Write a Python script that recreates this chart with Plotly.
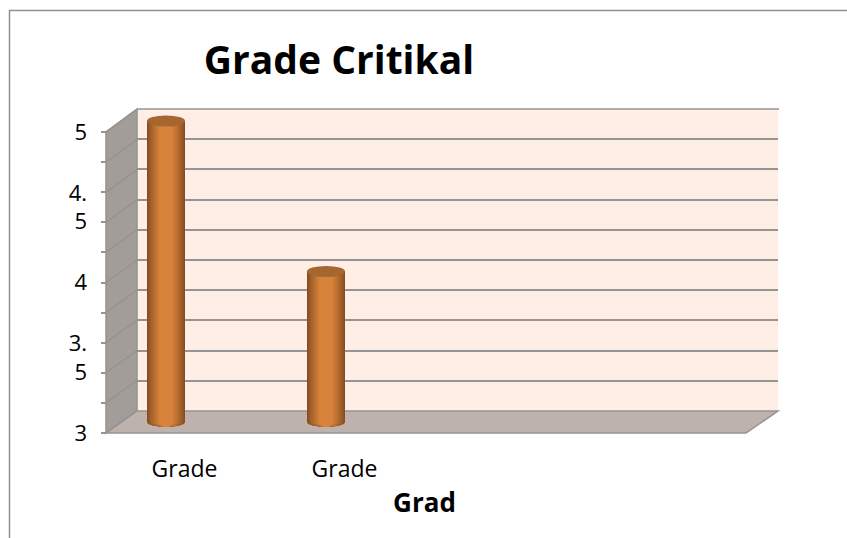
import plotly.graph_objects as go

# ---- data ----
categories = ["Grade", "Grade"]
values = [5, 4]
axis_slots = [0, 1, 2, 3]
tick_values = [3, 3.5, 4, 4.5, 5]
tick_labels = ["3", "3.<br>5", "4", "4.<br>5", "5"]
title_text = "Grade Critikal"
x_title = "Grad"

W, H = 847, 538
FONT = "Open Sans"
TITLE_FONT = "Open Sans"
GRID = "#949494"
AXMIN, AXMAX, STEP = 3, 5, 0.2


def py(p):
    return 1 - p / H


def px(p):
    return p / W


def dom(a, b):
    return [px(a), px(b)]


def front_y(v):
    return 433 - (v - AXMIN) * (433 - 132) / (AXMAX - AXMIN)


def poly(points):
    return "M" + " L".join(f"{px(a):.5f},{py(b):.5f}" for a, b in points) + " Z"


grid_vals = [AXMIN + i * STEP for i in range(11)]

shapes = []
# frame
shapes.append(dict(type="path", xref="paper", yref="paper", layer="below",
                   path=f"M{px(9.5)},{py(538)} L{px(9.5)},{py(10.5)} L1,{py(10.5)}",
                   line=dict(color="#8f8f8f", width=1.5)))
# back wall, side wall, floor
shapes.append(dict(type="path", xref="paper", yref="paper", layer="below",
                   path=poly([(137, 109), (778, 109), (778, 411), (137, 411)]),
                   fillcolor="#feeee6", line=dict(width=0)))
shapes.append(dict(type="line", xref="paper", yref="paper", layer="below",
                   x0=px(137), x1=px(779), y0=py(109), y1=py(109),
                   line=dict(color=GRID, width=1.5)))
shapes.append(dict(type="path", xref="paper", yref="paper", layer="below",
                   path=poly([(106, 433), (137, 411), (137, 109), (106, 132)]),
                   fillcolor="#a39d99", line=dict(color=GRID, width=1.5)))
shapes.append(dict(type="path", xref="paper", yref="paper", layer="below",
                   path=poly([(106, 433), (746, 433), (778, 411), (137, 411)]),
                   fillcolor="#bdb2ac", line=dict(color=GRID, width=1.5)))
# diagonals on the side wall
for v in grid_vals:
    f = front_y(v)
    shapes.append(dict(type="line", xref="paper", yref="paper", layer="below",
                       x0=px(106), y0=py(f), x1=px(137), y1=py(f - 22.5),
                       line=dict(color=GRID, width=1.5)))

# ---- cylinder shading: nested bars, dark edge to bright core ----
BAR_W = 38 / 160
SHIFT = 20 / 160
N = 14
edge = (134, 78, 32)
core = (216, 131, 60)


def layer_colour(t):
    s = min(1, t * 1.4) ** 0.8
    return "rgb(" + ",".join(str(round(e + (c - e) * s)) for e, c in zip(edge, core)) + ")"


fig = go.Figure()
# empty traces so that the value axis and the back-wall grid are drawn
fig.add_trace(go.Scatter(x=[None], y=[None], xaxis="x", yaxis="y", hoverinfo="skip", showlegend=False))
fig.add_trace(go.Scatter(x=[None], y=[None], xaxis="x2", yaxis="y2", hoverinfo="skip", showlegend=False))

xs = axis_slots[:len(values)]
for k in range(N):
    t = k / (N - 1)
    w = BAR_W * (1 - 0.92 * t)
    col = layer_colour(t)
    fig.add_trace(go.Bar(
        x=xs, y=[v - AXMIN for v in values], base=AXMIN, width=w, offset=-w / 2 - SHIFT,
        marker=dict(color=col, line=dict(width=0)), xaxis="x3", yaxis="y3",
        hoverinfo="skip", showlegend=False))
    for x_ in xs:
        shapes.append(dict(type="circle", xref="x3", yref="y3", layer="below",
                           ysizemode="pixel", yanchor=AXMIN,
                           x0=x_ - SHIFT - w / 2, x1=x_ - SHIFT + w / 2, y0=-5, y1=5,
                           fillcolor=col, line=dict(width=0)))
for x_, v in zip(xs, values):
    shapes.append(dict(type="circle", xref="x3", yref="y3", layer="above",
                       ysizemode="pixel", yanchor=v,
                       x0=x_ - SHIFT - BAR_W / 2, x1=x_ - SHIFT + BAR_W / 2, y0=-5.5, y1=5.5,
                       fillcolor="#a5672f", line=dict(width=0)))

fig.update_layout(
    width=W, height=H, autosize=False,
    margin=dict(l=0, r=0, t=0, b=0, autoexpand=False),
    paper_bgcolor="white", plot_bgcolor="rgba(0,0,0,0)",
    barmode="overlay", showlegend=False, shapes=shapes,
    title=dict(text=f"<b>{title_text}</b>", x=339 / W, xanchor="center", y=py(60), yanchor="middle",
               font=dict(family=TITLE_FONT, size=39, color="black")),
    xaxis=dict(domain=dom(104.5, 744.5), range=[-0.5, 3.5], anchor="y", automargin=False,
               tickmode="array", tickvals=xs, ticktext=categories,
               ticks="", showgrid=False, zeroline=False, showline=False,
               ticklabelstandoff=20,
               tickfont=dict(family=FONT, size=23, color="black"),
               title=dict(text=f"<b>{x_title}</b>", standoff=10,
                          font=dict(family=FONT, size=26, color="black"))),
    yaxis=dict(domain=[py(433), py(132)], range=[AXMIN, AXMAX], anchor="free", position=px(106),
               automargin=False,
               tickmode="array", tickvals=tick_values, ticktext=tick_labels,
               ticks="", showgrid=False, zeroline=False, showline=False,
               ticklabelstandoff=19,
               tickfont=dict(family=FONT, size=22, color="black"),
               minor=dict(tick0=AXMIN, dtick=STEP, ticks="outside", ticklen=5,
                          tickwidth=1.5, tickcolor=GRID, showgrid=False)),
    xaxis2=dict(domain=dom(137, 778), range=[0, 1], anchor="y2", visible=False, automargin=False),
    yaxis2=dict(domain=[py(411), py(109)], range=[AXMIN, AXMAX], anchor="x2", automargin=False,
                tick0=AXMIN, dtick=STEP, showticklabels=False, ticks="",
                showgrid=True, gridcolor=GRID, gridwidth=1.5,
                zeroline=False, showline=False),
    xaxis3=dict(domain=dom(106, 746), range=[-0.5, 3.5], anchor="y3", visible=False, automargin=False),
    yaxis3=dict(domain=[py(422 + 30.1), py(121 - 30.1)], range=[AXMIN - 0.2, AXMAX + 0.2],
                anchor="x3", visible=False, automargin=False),
)
fig.write_html("out.html", config=dict(displayModeBar=False),
               post_script="document.body.style.margin='0';")
